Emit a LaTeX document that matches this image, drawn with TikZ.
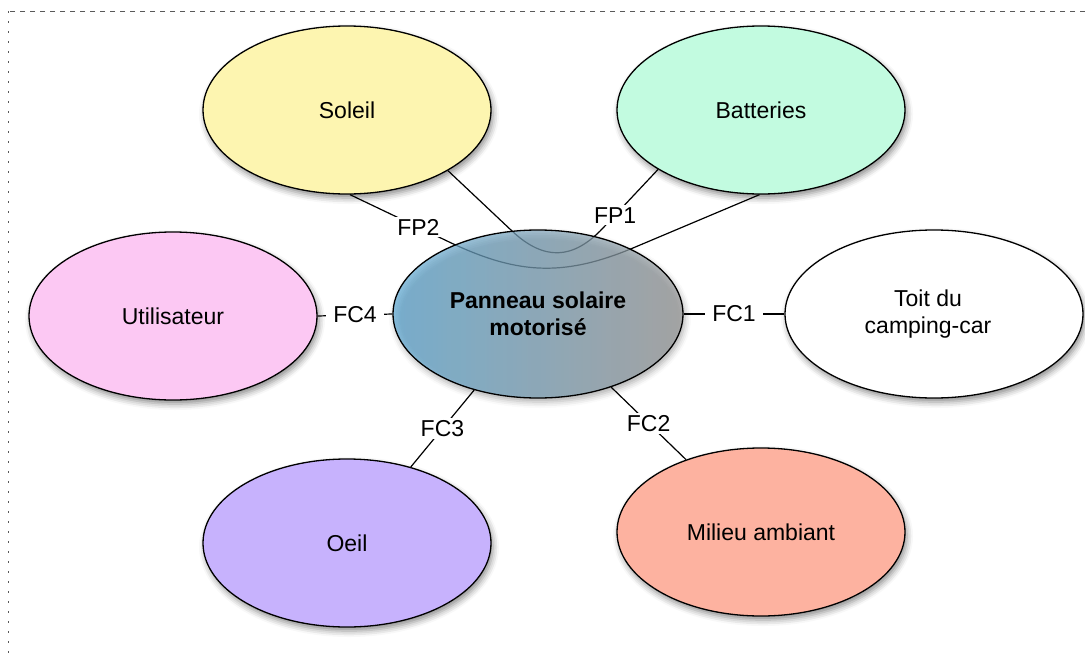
\documentclass[tikz,border=0pt]{standalone}
\usepackage{fontspec}
\setmainfont{Liberation Sans}
\usetikzlibrary{shapes.geometric,shadows.blur}
\pgfdeclarelayer{front}
\pgfsetlayers{main,front}
\definecolor{soleilc}{RGB}{253,245,176}
\definecolor{battc}{RGB}{194,251,224}
\definecolor{userc}{RGB}{252,200,243}
\definecolor{oeilc}{RGB}{199,178,253}
\definecolor{milc}{RGB}{253,178,160}
\definecolor{pa}{RGB}{96,172,216}
\definecolor{pc}{RGB}{64,132,176}
\definecolor{pe}{RGB}{158,158,158}
\begin{document}
\begin{tikzpicture}[x=1pt,y=-1pt,
  ell/.style={ellipse, draw=black, line width=1.3pt, minimum width=288pt, minimum height=168pt, inner sep=0pt, align=center, font=\fontsize{23}{27}\selectfont},
  shad/.style={blur shadow={shadow xshift=2pt, shadow yshift=-4pt, shadow blur radius=6pt, shadow opacity=45}},
  conn/.style={line width=1.2pt, black},
  lbl/.style={fill=white, inner xsep=7pt, inner ysep=2pt, font=\fontsize{23}{27}\selectfont},
  frame/.style={black!65, line width=1pt}]
\useasboundingbox (0,0) rectangle (1085,653);
\draw[frame, dash pattern=on 5pt off 5pt] (1085,11) -- (8,11);
\draw[frame, dash pattern=on 2pt off 8pt] (8,11) -- (8,653);

\node[ell, shad, fill=soleilc] (s) at (347,110) {Soleil};
\node[ell, shad, fill=battc] (b) at (761,110) {Batteries};
\node[ell, shad, fill=userc] (u) at (173,316) {Utilisateur};
\node[ell, shad, fill=white, minimum width=298pt] (t) at (934,314) {Toit du\hspace*{12pt}\\camping-car\hspace*{12pt}};
\node[ell, shad, fill=oeilc] (o) at (347,543) {Oeil};
\node[ell, shad, fill=milc] (m) at (761,532) {Milieu ambiant};

\begin{pgfonlayer}{front}
\node[ell, shad, left color=pa, middle color=pc, right color=pe, fill opacity=0.7, text opacity=1, draw opacity=1, minimum width=290pt, font=\bfseries\fontsize{23}{27}\selectfont] (c) at (538,314) {Panneau solaire\\motorisé};
\end{pgfonlayer}

\draw[conn] (u.east) -- node[lbl]{FC4} (c.west);
\draw[conn] (c.east) -- node[lbl]{FC1} (t.west);
\draw[conn] (c.-130) -- node[lbl]{FC3} (o.50);
\draw[conn] (c.-45) -- node[lbl]{FC2} (m.136);

\coordinate (p2a) at (445,240);
\coordinate (p2b) at (633,248);
\draw[conn] (s.-88) -- node[lbl, pos=0.72]{FP2} (p2a) .. controls (515,274) and (561,278) .. (p2b) -- (b.-91);

\coordinate (p1a) at (512,231);
\coordinate (p1b) at (603,228);
\draw[conn] (s.-31) -- (p1a) .. controls (544,261) and (573,260) .. (p1b) -- node[lbl, pos=0.22]{FP1} (b.-150);
\end{tikzpicture}
\end{document}
